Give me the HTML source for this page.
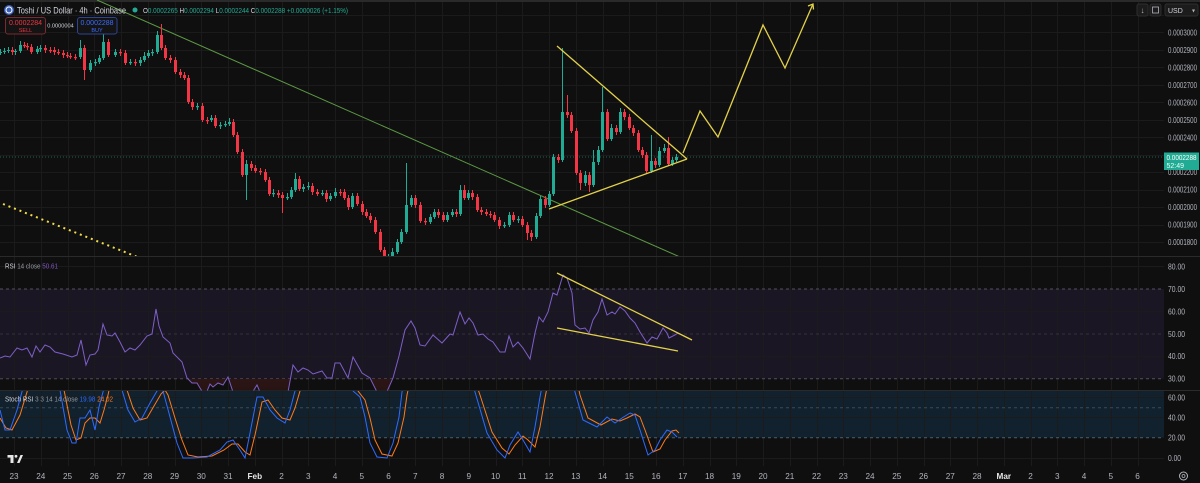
<!DOCTYPE html>
<html><head><meta charset="utf-8">
<style>
html,body{margin:0;padding:0;background:#0f0f0f;overflow:hidden;}
svg{display:block;font-family:"Liberation Sans",sans-serif;}
</style></head><body>
<svg width="1200" height="483" viewBox="0 0 1200 483" xmlns="http://www.w3.org/2000/svg">
<defs>
<clipPath id="mainClip"><rect x="0" y="0" width="1164" height="256"/></clipPath>
<clipPath id="rsiClip"><rect x="0" y="257" width="1164" height="133.5"/></clipPath>
<clipPath id="osClip"><rect x="0" y="378.7" width="1164" height="12"/></clipPath>
<clipPath id="stClip"><rect x="0" y="391" width="1164" height="75"/></clipPath>
<linearGradient id="osg" x1="0" y1="0" x2="0" y2="1"><stop offset="0" stop-color="#4a2020"/><stop offset="1" stop-color="#251212"/></linearGradient>
</defs>
<rect width="1200" height="483" fill="#0f0f0f"/>
<rect x="0" y="0" width="1200" height="2" fill="#2a2a2a"/>
<!-- bands -->
<rect x="0" y="289" width="1164" height="89.7" fill="#1a1624"/>
<rect x="0" y="391" width="1164" height="46.7" fill="#11212d"/>
<!-- grid -->
<path fill="none" stroke="#1b1b1b" stroke-width="1" d="M14.5 2V466M41.5 2V466M68.5 2V466M94.5 2V466M121.5 2V466M148.5 2V466M175.5 2V466M201.5 2V466M228.5 2V466M255.5 2V466M282.5 2V466M308.5 2V466M335.5 2V466M362.5 2V466M389.5 2V466M415.5 2V466M442.5 2V466M469.5 2V466M496.5 2V466M522.5 2V466M549.5 2V466M576.5 2V466M603.5 2V466M629.5 2V466M656.5 2V466M683.5 2V466M710.5 2V466M736.5 2V466M763.5 2V466M790.5 2V466M817.5 2V466M843.5 2V466M870.5 2V466M897.5 2V466M924.5 2V466M950.5 2V466M977.5 2V466M1004.5 2V466M1031.5 2V466M1057.5 2V466M1084.5 2V466M1111.5 2V466M1138.5 2V466
M0 15.5H1164M0 32.5H1164M0 50.5H1164M0 67.5H1164M0 85.5H1164M0 102.5H1164M0 120.5H1164M0 137.5H1164M0 155.5H1164M0 172.5H1164M0 190.5H1164M0 207.5H1164M0 225.5H1164M0 242.5H1164M0 266.5H1164M0 311.5H1164M0 356.5H1164M0 397.5H1164M0 417.5H1164M0 458.5H1164"/>
<!-- dashed levels -->
<g stroke-width="1" fill="none">
<line x1="0" y1="289" x2="1164" y2="289" stroke="#55525f" stroke-dasharray="3,3"/>
<line x1="0" y1="334" x2="1164" y2="334" stroke="#34313d" stroke-dasharray="3,3"/>
<line x1="0" y1="378.7" x2="1164" y2="378.7" stroke="#55525f" stroke-dasharray="3,3"/>
<line x1="0" y1="407.7" x2="1164" y2="407.7" stroke="#3a4a56" stroke-dasharray="3,3"/>
<line x1="0" y1="437.7" x2="1164" y2="437.7" stroke="#4e5e6a" stroke-dasharray="3,3"/>
</g>
<!-- separators -->
<line x1="0" y1="256.5" x2="1200" y2="256.5" stroke="#2a2a2a"/>
<line x1="0" y1="390.5" x2="1200" y2="390.5" stroke="#2a2a2a"/>
<!-- current price line -->
<line x1="0" y1="157" x2="1164" y2="157" stroke="#1f5f55" stroke-dasharray="1,2" stroke-width="1"/>

<g clip-path="url(#mainClip)">
  <line x1="97" y1="0" x2="680" y2="257" stroke="#5c9a44" stroke-width="1"/>
  <line x1="3" y1="204" x2="140" y2="258" stroke="#f0dc4a" stroke-width="2" stroke-dasharray="2 3.9"/>
  <!-- green candles -->
  <path fill="none" stroke="#22ab94" stroke-width="1" d="M0.5 49V55M4.5 48V54M8.5 47V53M15.5 49V55M20.5 41V53M37.5 46V54M40.5 45V52M80.5 40V59M90.5 60V72M95.5 59V66M99.5 55V64M103.5 34V60M115.5 49V57M130.5 59V65M140.5 57V66M144.5 52V62M148.5 50V58M152.5 49V56M157.5 31V54M197.5 103V110M211.5 115V122M220.5 122V129M225.5 121V127M229.5 118V126M246.5 160V200M273.5 189V197M287.5 193V200M291.5 187V199M295.5 173V192M303.5 184V192M308.5 182V190M322.5 190V196M330.5 193V201M335.5 188V198M352.5 193V209M388.5 254V261M392.5 248V259M397.5 239V254M401.5 229V244M406.5 163V234M411.5 195V207M430.5 214V224M434.5 209V219M447.5 212V222M452.5 209V217M460.5 185V216M468.5 190V200M504.5 222V228M509.5 212V227M518.5 216V223M536.5 213V239M540.5 196V218M549.5 191V207M553.5 154V196M562.5 48V162M585.5 171V186M593.5 150V187M598.5 146V165M602.5 87V152M611.5 124V141M620.5 108V134M651.5 135V173M659.5 147V167M664.5 144V153M672.5 157V166M676.5 154V162"/>
  <path fill="#22ab94" d="M-1 52h3v1h-3zM3 51h3v1h-3zM7 50h3v1h-3zM14 51h3v1h-3zM19 45h3v6h-3zM36 49h3v3h-3zM39 48h3v1.2h-3zM79 48h3v9h-3zM89 63h3v7h-3zM94 62h3v1.2h-3zM98 58h3v4h-3zM102 42h3v16h-3zM114 52h3v3h-3zM129 62h3v1.2h-3zM139 60h3v3h-3zM143 56h3v4h-3zM147 53h3v3h-3zM151 52h3v1.2h-3zM156 35h3v17h-3zM196 106h3v1.2h-3zM210 118h3v2h-3zM219 125h3v1.2h-3zM224 124h3v1.2h-3zM228 122h3v2h-3zM245 164h3v11h-3zM272 193h3v1.2h-3zM286 197h3v1.2h-3zM290 190h3v7h-3zM294 179h3v11h-3zM302 187h3v2h-3zM307 186h3v1.2h-3zM321 193h3v1.2h-3zM329 196h3v3h-3zM334 192h3v4h-3zM351 196h3v11h-3zM387 257h3v1.2h-3zM391 252h3v5h-3zM396 242h3v10h-3zM400 232h3v10h-3zM405 205h3v27h-3zM410 198h3v7h-3zM429 217h3v5h-3zM433 212h3v5h-3zM446 215h3v5h-3zM451 212h3v3h-3zM459 190h3v24h-3zM467 193h3v5h-3zM503 225h3v1.2h-3zM508 215h3v10h-3zM517 219h3v1.2h-3zM535 216h3v21h-3zM539 199h3v17h-3zM548 194h3v11h-3zM552 157h3v37h-3zM561 112h3v48h-3zM584 175h3v8h-3zM592 162h3v23h-3zM597 150h3v12h-3zM601 112h3v38h-3zM610 128h3v11h-3zM619 112h3v20h-3zM650 161h3v10h-3zM658 151h3v14h-3zM663 148h3v3h-3zM671 160h3v4h-3zM675 157h3v3h-3z"/>
  <!-- red candles -->
  <path fill="none" stroke="#f23645" stroke-width="1" d="M12.5 47V55M24.5 42V48M27.5 43V50M31.5 44V54M45.5 45V53M50.5 47V53M54.5 47V55M58.5 49V55M63.5 50V58M67.5 52V58M70.5 53V59M75.5 54V60M84.5 45V80M108.5 39V57M120.5 49V56M125.5 50V65M135.5 59V66M161.5 24V50M165.5 45V60M170.5 55V63M175.5 57V74M180.5 69V78M184.5 72V80M188.5 75V104M192.5 99V110M202.5 103V122M207.5 117V124M215.5 115V128M233.5 119V137M237.5 132V154M242.5 149V177M251.5 161V171M255.5 165V173M260.5 168V175M265.5 169V182M269.5 177V196M278.5 190V198M282.5 192V213M299.5 176V191M312.5 183V195M317.5 189V196M326.5 190V202M340.5 189V196M344.5 189V200M348.5 195V210M357.5 193V206M362.5 201V215M366.5 209V218M370.5 213V223M375.5 217V234M380.5 229V252M384.5 247V262M415.5 195V208M420.5 202V223M425.5 218V225M438.5 209V218M443.5 212V222M456.5 209V217M464.5 185V200M472.5 190V200M477.5 194V212M481.5 207V215M486.5 209V216M490.5 211V218M494.5 212V222M499.5 217V229M513.5 212V222M522.5 216V227M527.5 222V240M531.5 230V241M545.5 196V208M558.5 154V163M567.5 95V118M571.5 112V133M576.5 128V175M580.5 170V190M589.5 172V192M607.5 109V141M616.5 125V135M624.5 109V120M629.5 114V130M633.5 125V136M638.5 130V152M642.5 147V158M646.5 152V173M655.5 158V168M668.5 137V166"/>
  <path fill="#f23645" d="M11 50h3v2h-3zM23 45h3v1.2h-3zM26 46h3v1.2h-3zM30 47h3v5h-3zM44 48h3v2h-3zM49 50h3v1.2h-3zM53 50h3v2h-3zM57 52h3v1.2h-3zM62 53h3v2h-3zM66 55h3v1.2h-3zM69 56h3v1.2h-3zM74 57h3v1.2h-3zM83 48h3v22h-3zM107 42h3v13h-3zM119 52h3v1.2h-3zM124 53h3v10h-3zM134 62h3v1.2h-3zM160 35h3v13h-3zM164 48h3v10h-3zM169 58h3v2h-3zM174 60h3v12h-3zM179 72h3v3h-3zM183 75h3v3h-3zM187 78h3v24h-3zM191 102h3v5h-3zM201 106h3v14h-3zM206 120h3v1.2h-3zM214 118h3v8h-3zM232 122h3v13h-3zM236 135h3v17h-3zM241 152h3v23h-3zM250 164h3v4h-3zM254 168h3v3h-3zM259 171h3v1.2h-3zM264 172h3v8h-3zM268 180h3v14h-3zM277 193h3v2h-3zM281 195h3v3h-3zM298 179h3v10h-3zM311 186h3v6h-3zM316 192h3v2h-3zM325 193h3v6h-3zM339 192h3v1.2h-3zM343 192h3v6h-3zM347 198h3v9h-3zM356 196h3v8h-3zM361 204h3v8h-3zM365 212h3v4h-3zM369 216h3v4h-3zM374 220h3v12h-3zM379 232h3v18h-3zM383 250h3v8h-3zM414 198h3v7h-3zM419 205h3v16h-3zM424 221h3v1.2h-3zM437 212h3v3h-3zM442 215h3v5h-3zM455 212h3v2h-3zM463 190h3v8h-3zM471 193h3v4h-3zM476 197h3v13h-3zM480 210h3v2h-3zM485 212h3v2h-3zM489 214h3v1.2h-3zM493 215h3v5h-3zM498 220h3v6h-3zM512 215h3v5h-3zM521 219h3v6h-3zM526 225h3v8h-3zM530 233h3v4h-3zM544 199h3v6h-3zM557 157h3v3h-3zM566 112h3v3h-3zM570 115h3v16h-3zM575 131h3v42h-3zM579 173h3v10h-3zM588 175h3v10h-3zM606 112h3v27h-3zM615 128h3v4h-3zM623 112h3v5h-3zM628 117h3v11h-3zM632 128h3v5h-3zM637 133h3v17h-3zM641 150h3v5h-3zM645 155h3v16h-3zM654 161h3v4h-3zM667 148h3v16h-3z"/>
  <g stroke="#e3d14a" stroke-width="1.3" fill="none">
    <line x1="557" y1="46" x2="687" y2="159"/>
    <line x1="549" y1="209" x2="687" y2="159"/>
    <polyline points="683,153 700,111 718,137 763,25 785,68 813,4"/>
    <polyline points="808,6 813,4 813.5,9.5"/>
  </g>
</g>

<g clip-path="url(#rsiClip)">
  <polygon fill="url(#osg)" clip-path="url(#osClip)" points="0,358 5,356 10,357 17,348 22,350 27,348 32,357 36,346 40,352 45,345 50,347 55,352 63,354 72,357 77,355 81,340 86,365 90,355 95,354 98,350 103,324 107,335 112,336 115,333 120,342 125,352 130,348 135,350 140,345 147,336 152,334 156,309 159,326 163,337 170,343 173,353 182,362 187,378 192,383 197,383 200,388 205,396 210,384 213,387 218,383 223,385 228,377 233,392 240,398 250,396 257,385 260,392 270,398 280,398 288,392 293,365 298,372 303,368 308,370 313,374 322,371 327,378 332,378 335,363 340,363 348,378 353,357 362,373 370,378 377,392 385,396 393,378 399,356 405,330 678,333 678,378.7 0,378.7"/>
  <polyline fill="none" stroke="#7e5fc8" stroke-width="1" points="0,358 5,356 10,357 17,348 22,350 27,348 32,357 36,346 40,352 45,345 50,347 55,352 63,354 72,357 77,355 81,340 86,365 90,355 95,354 98,350 103,324 107,335 112,336 115,333 120,342 125,352 130,348 135,350 140,345 147,336 152,334 156,309 159,326 163,337 170,343 173,353 182,362 187,378 192,383 197,383 200,388 205,396 210,384 213,387 218,383 223,385 228,377 233,392 240,398 250,396 257,385 260,392 270,398 280,398 288,392 293,365 298,372 303,368 308,370 313,374 322,371 327,378 332,378 335,363 340,363 348,378 353,357 362,373 370,378 377,392 385,396 393,378 399,356 405,330 411,321 415,328 420,345 425,346 433,335 442,343 450,334 453,335 460,312 465,324 469,318 473,323 478,335 483,334 488,339 493,342 500,352 505,352 509,336 513,347 518,342 523,348 530,359 535,333 539,317 543,322 548,312 553,293 557,295 563,275 567,278 572,293 575,325 580,329 585,328 589,333 593,320 598,312 602,299 607,315 612,312 615,314 620,307 625,311 630,318 635,323 640,332 647,343 652,337 657,339 663,328 667,333 669,338 675,335 678,333"/>
  <g stroke="#e3d14a" stroke-width="1.3">
    <line x1="557" y1="273" x2="692" y2="340"/>
    <line x1="557" y1="328" x2="678" y2="351"/>
  </g>
</g>

<g clip-path="url(#stClip)" fill="none" stroke-width="1">
  <polyline stroke="#ff7a1a" points="0,418 6,428 12,430 20,415 27,392 32,370 54,362 59,372 64,390 71,425 76,440 81,438 85,423 90,418 95,418 100,423 104,410 108,395 113,372 120,372 127,390 133,408 140,420 147,418 154,406 161,394 165,390 168,395 175,418 182,440 188,455 198,457 212,456 224,450 232,444 238,444 245,452 250,455 255,435 262,402 268,400 275,410 282,418 290,420 295,408 300,391 305,372 350,368 358,391 365,400 370,418 375,440 382,454 392,456 398,443 404,417 407,395 412,372 472,372 480,395 492,432 502,448 509,454 515,445 523,436 528,440 535,447 540,427 545,398 550,372 575,372 580,395 588,418 601,425 612,419 620,421 627,418 635,414 640,417 645,430 653,452 660,449 665,440 672,431 676,430 679,433"/>
  <polyline stroke="#2f6bff" points="0,410 5,430 10,430 17,410 23,388 28,365 50,360 55,372 60,390 67,430 72,443 76,443 80,418 85,418 90,410 95,430 99,407 103,392 108,370 115,370 122,390 128,410 135,422 142,418 150,403 157,391 160,382 163,391 170,417 177,443 183,458 193,458 207,457 220,450 227,442 233,440 240,450 245,458 250,433 257,397 263,397 270,410 277,418 285,423 290,410 295,391 300,370 345,365 353,391 360,397 365,417 370,443 377,457 387,458 393,443 399,417 402,392 407,370 468,370 475,392 487,433 497,450 505,458 510,445 518,432 523,440 530,452 535,427 540,397 545,370 570,370 575,392 583,420 597,427 607,417 615,423 622,418 630,413 635,415 640,430 648,455 655,450 660,440 667,430 672,432 677,437"/>
</g>

<!-- price axis -->
<g font-size="8" fill="#b2b5be" lengthAdjust="spacingAndGlyphs">
<text x="1168" y="35.5" textLength="29" lengthAdjust="spacingAndGlyphs">0.0003000</text>
<text x="1168" y="53" textLength="29" lengthAdjust="spacingAndGlyphs">0.0002900</text>
<text x="1168" y="70.4" textLength="29" lengthAdjust="spacingAndGlyphs">0.0002800</text>
<text x="1168" y="87.9" textLength="29" lengthAdjust="spacingAndGlyphs">0.0002700</text>
<text x="1168" y="105.3" textLength="29" lengthAdjust="spacingAndGlyphs">0.0002600</text>
<text x="1168" y="122.8" textLength="29" lengthAdjust="spacingAndGlyphs">0.0002500</text>
<text x="1168" y="140.3" textLength="29" lengthAdjust="spacingAndGlyphs">0.0002400</text>
<text x="1168" y="175.2" textLength="29" lengthAdjust="spacingAndGlyphs">0.0002200</text>
<text x="1168" y="192.6" textLength="29" lengthAdjust="spacingAndGlyphs">0.0002100</text>
<text x="1168" y="210.1" textLength="29" lengthAdjust="spacingAndGlyphs">0.0002000</text>
<text x="1168" y="227.6" textLength="29" lengthAdjust="spacingAndGlyphs">0.0001900</text>
<text x="1168" y="245" textLength="29" lengthAdjust="spacingAndGlyphs">0.0001800</text>
<text x="1168" y="269.5" textLength="17" lengthAdjust="spacingAndGlyphs">80.00</text>
<text x="1168" y="292" textLength="17" lengthAdjust="spacingAndGlyphs">70.00</text>
<text x="1168" y="314.5" textLength="17" lengthAdjust="spacingAndGlyphs">60.00</text>
<text x="1168" y="337" textLength="17" lengthAdjust="spacingAndGlyphs">50.00</text>
<text x="1168" y="359" textLength="17" lengthAdjust="spacingAndGlyphs">40.00</text>
<text x="1168" y="381.7" textLength="17" lengthAdjust="spacingAndGlyphs">30.00</text>
<text x="1168" y="400.7" textLength="17" lengthAdjust="spacingAndGlyphs">60.00</text>
<text x="1168" y="420.7" textLength="17" lengthAdjust="spacingAndGlyphs">40.00</text>
<text x="1168" y="440.7" textLength="17" lengthAdjust="spacingAndGlyphs">20.00</text>
<text x="1168" y="461" textLength="13" lengthAdjust="spacingAndGlyphs">0.00</text>
</g>

<!-- dates -->
<g font-size="8.2" fill="#b2b5be" text-anchor="middle">
<text x="14" y="479">23</text><text x="40.8" y="479">24</text><text x="67.5" y="479">25</text><text x="94.3" y="479">26</text><text x="121" y="479">27</text><text x="147.8" y="479">28</text><text x="174.5" y="479">29</text><text x="201.3" y="479">30</text><text x="228" y="479">31</text>
<text x="254.8" y="479" fill="#e6e6e6" font-weight="bold">Feb</text>
<text x="281.5" y="479">2</text><text x="308.3" y="479">3</text><text x="335" y="479">4</text><text x="361.8" y="479">5</text><text x="388.5" y="479">6</text><text x="415.3" y="479">7</text><text x="442" y="479">8</text><text x="468.8" y="479">9</text><text x="495.5" y="479">10</text><text x="522.3" y="479">11</text><text x="549" y="479">12</text><text x="575.8" y="479">13</text><text x="602.5" y="479">14</text><text x="629.3" y="479">15</text><text x="656" y="479">16</text><text x="682.8" y="479">17</text><text x="709.5" y="479">18</text><text x="736.3" y="479">19</text><text x="763" y="479">20</text><text x="789.8" y="479">21</text><text x="816.5" y="479">22</text><text x="843.3" y="479">23</text><text x="870" y="479">24</text><text x="896.8" y="479">25</text><text x="923.5" y="479">26</text><text x="950.3" y="479">27</text><text x="977" y="479">28</text>
<text x="1003.8" y="479" fill="#e6e6e6" font-weight="bold">Mar</text>
<text x="1030.5" y="479">2</text><text x="1057.3" y="479">3</text><text x="1084" y="479">4</text><text x="1110.8" y="479">5</text><text x="1137.5" y="479">6</text>
</g>

<!-- current price label -->
<rect x="1164" y="152.5" width="35" height="17.5" fill="#22ab94"/>
<text x="1166.5" y="160" font-size="7.5" fill="#ffffff" textLength="30" lengthAdjust="spacingAndGlyphs">0.0002288</text>
<text x="1166.5" y="168" font-size="7" fill="#e8fff9">52:49</text>

<!-- top right buttons -->
<rect x="1137" y="4" width="11" height="12" rx="2" fill="#1c1c1c" stroke="#2e2e2e"/>
<text x="1142.5" y="13" font-size="8" fill="#b2b5be" text-anchor="middle">↓</text>
<rect x="1150" y="4" width="11" height="12" rx="2" fill="#1c1c1c" stroke="#2e2e2e"/>
<rect x="1152.5" y="7" width="6" height="6" fill="none" stroke="#b2b5be" stroke-width="0.8"/>
<rect x="1165" y="4" width="33" height="12" rx="2" fill="#1c1c1c" stroke="#2e2e2e"/>
<text x="1168" y="12.8" font-size="7" fill="#d1d4dc">USD</text>
<text x="1192" y="12.5" font-size="6" fill="#b2b5be">▾</text>

<!-- header -->
<circle cx="9" cy="10" r="5" fill="#3b5fb8"/>
<circle cx="9" cy="10" r="3" fill="none" stroke="#ffffff" stroke-width="1"/>
<text x="17" y="13.5" font-size="9.5" fill="#d1d4dc" textLength="109" lengthAdjust="spacingAndGlyphs">Toshi / US Dollar · 4h · Coinbase</text>
<circle cx="135" cy="10" r="2.5" fill="#22ab94"/>
<text x="143" y="12.8" font-size="7" fill="#22ab94" textLength="205" lengthAdjust="spacingAndGlyphs"><tspan fill="#d1d4dc">O</tspan>0.0002265 <tspan fill="#d1d4dc">H</tspan>0.0002294 <tspan fill="#d1d4dc">L</tspan>0.0002244 <tspan fill="#d1d4dc">C</tspan>0.0002288 +0.0000026 (+1.15%)</text>

<!-- sell/buy -->
<rect x="5.5" y="17.5" width="40" height="16.5" rx="2.5" fill="#141414" stroke="#7a2a30"/>
<text x="25.5" y="25" font-size="7" fill="#f23645" text-anchor="middle">0.0002284</text>
<text x="25.5" y="31.8" font-size="5.5" fill="#f23645" text-anchor="middle">SELL</text>
<text x="60.5" y="27.5" font-size="5.6" fill="#d1d4dc" text-anchor="middle">0.0000004</text>
<rect x="77.5" y="17.5" width="39.5" height="16.5" rx="2.5" fill="#141414" stroke="#2d4494"/>
<text x="97" y="25" font-size="7" fill="#3d6cff" text-anchor="middle">0.0002288</text>
<text x="97" y="31.8" font-size="5.5" fill="#3d6cff" text-anchor="middle">BUY</text>

<!-- pane labels -->
<text x="5" y="268.5" font-size="7.5" fill="#9598a1" textLength="53" lengthAdjust="spacingAndGlyphs"><tspan fill="#d1d4dc">RSI</tspan> 14 close <tspan fill="#7e57c2">50.61</tspan></text>
<text x="5" y="401.5" font-size="7.5" fill="#9598a1" textLength="108" lengthAdjust="spacingAndGlyphs"><tspan fill="#d1d4dc">Stoch RSI</tspan> 3 3 14 14 close <tspan fill="#2f6bff">19.98</tspan> <tspan fill="#ff7a1a">24.02</tspan></text>

<!-- TV logo -->
<g fill="#e8e8e8">
<rect x="7.5" y="455" width="6" height="2.6"/>
<rect x="10.5" y="455" width="3" height="8"/>
<circle cx="16" cy="456.3" r="1.4"/>
<polygon points="17,463 20.5,455 23,455 19.5,463"/>
</g>
<!-- gear -->
<circle cx="1183.5" cy="476" r="4" fill="none" stroke="#b2b5be" stroke-width="1"/>
<circle cx="1183.5" cy="476" r="1.5" fill="none" stroke="#b2b5be" stroke-width="0.8"/>
</svg>
</body></html>
